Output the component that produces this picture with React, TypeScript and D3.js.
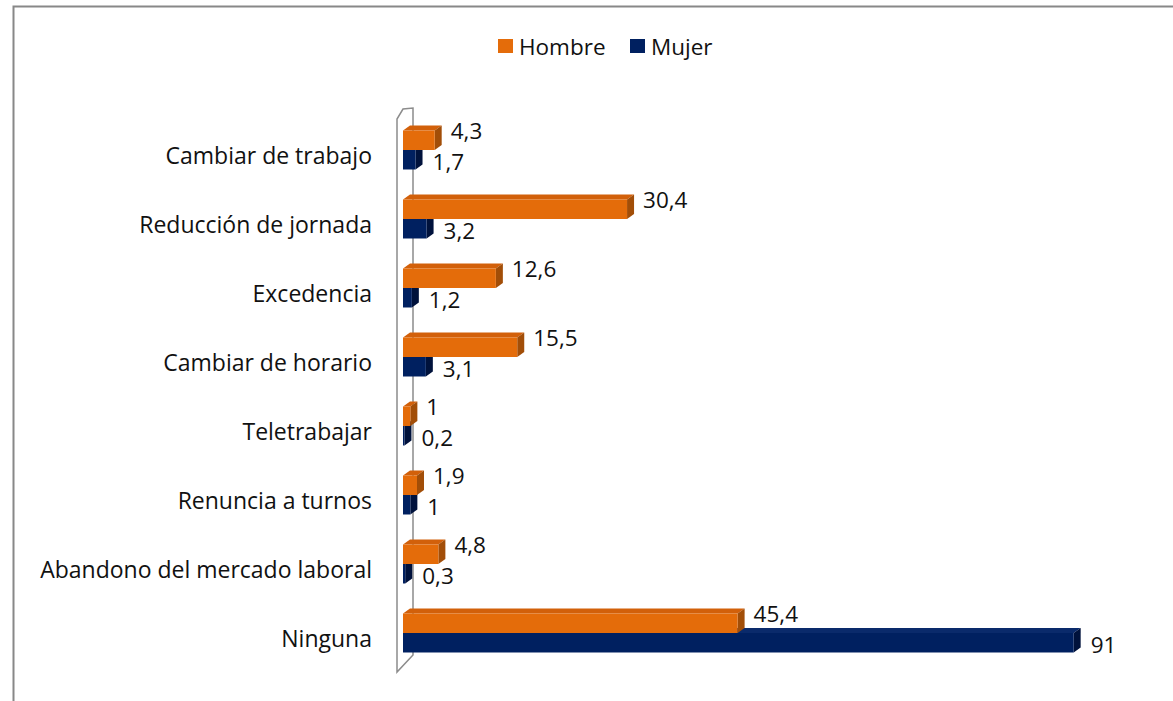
import React from "react";
import * as d3 from "d3";

const categories = [
  "Cambiar de trabajo",
  "Reducción de jornada",
  "Excedencia",
  "Cambiar de horario",
  "Teletrabajar",
  "Renuncia a turnos",
  "Abandono del mercado laboral",
  "Ninguna",
];
const hombre = [4.3, 30.4, 12.6, 15.5, 1, 1.9, 4.8, 45.4];
const mujer = [1.7, 3.2, 1.2, 3.1, 0.2, 1, 0.3, 91];
const seriesNames = ["Hombre", "Mujer"];

const W = 1173;
const H = 701;
const FONT = "'Open Sans', sans-serif";
const FS = 23;
const FSV = 22.5;

const colors = {
  Hombre: { front: "#E46C0A", top: "#D2600A", side: "#A24E08" },
  Mujer: { front: "#002060", top: "#0A2A6B", side: "#00123C" },
};

const fmt = (v: number) => String(v).replace(".", ",");

export default function App() {
  const x = d3.scaleLinear().domain([0, 100]).range([403, 1140]);
  const y = d3
    .scaleBand<string>()
    .domain(categories)
    .range([115.5, 667.5])
    .paddingInner(0.435)
    .paddingOuter(0.2175);
  const bw = y.bandwidth();
  const half = bw / 2;
  const dx = 7;
  const dy = 5;

  const bar3d = (v: number, y0: number, h: number, c: { front: string; top: string; side: string }, key: string) => {
    const x0 = x(0);
    const x1 = x(v);
    const y1 = y0 + h;
    return (
      <g key={key}>
        <path d={`M${x0},${y0} L${x0 + dx},${y0 - dy} L${x1 + dx},${y0 - dy} L${x1},${y0} Z`} fill={c.top} />
        <path d={`M${x1},${y0} L${x1 + dx},${y0 - dy} L${x1 + dx},${y1 - dy} L${x1},${y1} Z`} fill={c.side} />
        <rect x={x0} y={y0} width={x1 - x0} height={h} fill={c.front} />
      </g>
    );
  };

  return (
    <svg width={W} height={H} style={{ position: "absolute", left: 0, top: 0, background: "#fff" }} fontFamily={FONT}>
      <rect x={0} y={0} width={W} height={H} fill="#fff" />
      <path d={`M13.5,${H} L13.5,6.5 L${W},6.5`} fill="none" stroke="#888" strokeWidth={2} />

      <g>
        <rect x={498} y={39} width={15} height={14} fill={colors.Hombre.front} />
        <text x={519} y={46} dominantBaseline="central" fontSize={FSV} fill="#111">
          {seriesNames[0]}
        </text>
        <rect x={630} y={39} width={15} height={14} fill={colors.Mujer.front} />
        <text x={651} y={46} dominantBaseline="central" fontSize={FSV} fill="#111">
          {seriesNames[1]}
        </text>
      </g>

      <path
        d={`M397,672 L397,119 L403,109 L413,108 L413,655 Z`}
        fill="none"
        stroke="#8c8c8c"
        strokeWidth={1.5}
      />

      {categories.map((cat, i) => {
        const y0 = y(cat)!;
        return (
          <g key={cat}>
            {bar3d(mujer[i], y0 + half, half, colors.Mujer, "m")}
            {bar3d(hombre[i], y0, half, colors.Hombre, "h")}
          </g>
        );
      })}

      {categories.map((cat) => (
        <text
          key={cat}
          x={372}
          y={y(cat)! + half + 5}
          textAnchor="end"
          dominantBaseline="central"
          fontSize={FS}
          fill="#111"
        >
          {cat}
        </text>
      ))}

      {categories.map((cat, i) => (
        <g key={cat}>
          <text x={x(hombre[i]) + 16} y={y(cat)! + half - 20} dominantBaseline="central" fontSize={FSV} fill="#111">
            {fmt(hombre[i])}
          </text>
          <text x={x(mujer[i]) + 17} y={y(cat)! + half + 11} dominantBaseline="central" fontSize={FSV} fill="#111">
            {fmt(mujer[i])}
          </text>
        </g>
      ))}
    </svg>
  );
}
